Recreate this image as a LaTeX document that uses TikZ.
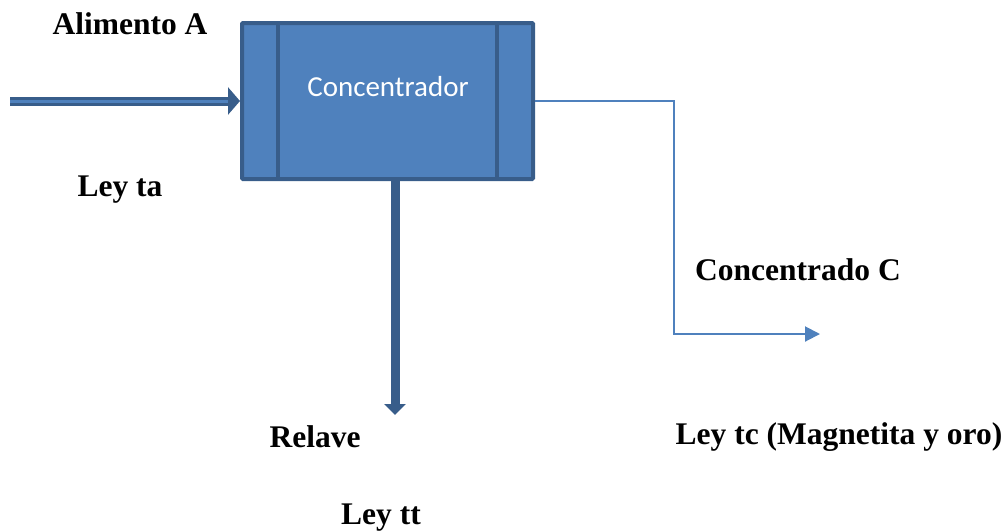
\documentclass[tikz,border=0pt]{standalone}
\usepackage{fontspec}
\setmainfont{Liberation Serif}
\newfontfamily\calibrifont{Carlito}
\usetikzlibrary{arrows.meta}
\definecolor{boxblue}{HTML}{4F81BD}
\definecolor{darkblue}{HTML}{385D8A}
\tikzset{
  lbl/.style={font=\fontsize{31.5}{36}\selectfont\bfseries, inner sep=0pt},
  unit/.style={draw=darkblue, fill=boxblue, line width=4pt, rounded corners=1pt,
               minimum width=291pt, minimum height=156pt, inner sep=0pt},
  feedarrow/.style={draw=darkblue, line width=9pt, -{Triangle[length=12pt,width=27pt]}},
  tailarrow/.style={draw=darkblue, line width=9pt, -{Triangle[length=11pt,width=21pt]}},
  conarrow/.style={draw=boxblue, line width=2pt, -{Triangle[length=15pt,width=15pt]}}
}
\begin{document}
\begin{tikzpicture}[x=1pt, y=-1pt]
\useasboundingbox (0,0) rectangle (1008,531);
            % process unit
            \node[unit] (conc) at (387.5,101) {};
            \draw[darkblue, line width=4pt] ([xshift=38pt]conc.north west) -- ([xshift=38pt]conc.south west);
            \draw[darkblue, line width=4pt] ([xshift=-38pt]conc.north east) -- ([xshift=-38pt]conc.south east);
            \node[text=white, font=\calibrifont\fontsize{29}{34}\selectfont, inner sep=0pt] (title) at (388,87) {Concentrador};

            % streams
            \coordinate (feed) at (10,101);
            \coordinate (tail) at (395,415);
            \coordinate (turn) at (674,334);
            \coordinate (cend) at (820,334);

            \draw[feedarrow] (feed) -- (conc.west);
            \draw[boxblue, line width=3pt, shorten >=12pt] (feed) -- (conc.west);
            \draw[tailarrow] (conc.south -| tail) -- (tail);
            \draw[conarrow] (conc.east) -| (turn) -- (cend);

            % labels
            \node[lbl] (alim) at (130,24) {Alimento A};
            \node[lbl] (leyta) at (120,190) {Ley ta};
            \node[lbl] (cc) at (798,270) {Concentrado C};
            \node[lbl] (rel) at (315,437) {Relave};
            \node[lbl] (leytc) at (839,437) {Ley tc (Magnetita y oro)};
            \node[lbl] (leytt) at (381,518) {Ley tt};
\end{tikzpicture}
\end{document}
